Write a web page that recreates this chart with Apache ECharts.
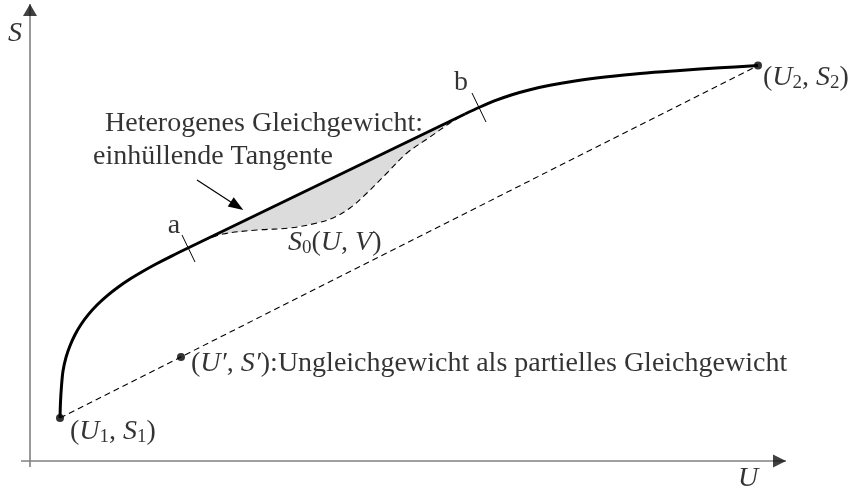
<!DOCTYPE html>
<html>
<head>
<meta charset="utf-8">
<script src="https://cdn.jsdelivr.net/npm/echarts@6/dist/echarts.min.js"></script>
<style>
  html, body { margin: 0; padding: 0; background: #ffffff; }
  #chart { width: 855px; height: 493px; }
</style>
</head>
<body>
<div id="chart"></div>
<script>
// Axis extents in diagram units (U to the right, S upwards)
const uAxis = [-9, 756];
const sAxis = [-6, 457];

// Equilibrium entropy S(U): concave branch below a, envelope tangent a-b, branch above b
const lowerBranch = [[30, 43], [30.5, 59], [31.5, 75], [33, 90], [36, 103.7], [40, 115.3], [45, 126.3],
  [51, 136.5], [58.5, 146.6], [67, 156], [77, 165.2], [88, 173.8], [100, 182], [113, 189.8],
  [127, 197.5], [142, 205.2], [158, 213]];
const tangent = [[158, 213], [435, 347]];
const upperBranch = [[435, 347], [450, 354], [465, 360.3], [482, 366.3], [500, 371.3], [520, 375.7],
  [545, 380], [575, 383.9], [610, 387.6], [650, 390.6], [690, 393.2], [728, 395.5]];

// Homogeneous entropy S0(U,V), leaving and rejoining the tangent
const s0Curve = [[173, 220], [193, 227], [227, 231], [260, 233], [287, 238], [303, 243], [320, 253],
  [337, 268], [357, 288], [377, 308], [400, 324], [420, 338], [435, 347]];

// Chord between the two end states and the marked states
const chord = [[30, 43], [728, 395.5]];
const statePoints = [[30, 43], [728, 395.5], [151, 104]];

// Short marks across the curve at a and b, and the pointer onto the tangent
const tickA = [[152, 226], [165, 199]];
const tickB = [[442, 368], [456, 339]];
const pointer = [[167, 281], [207, 255]];

// Text anchors: [u, s, text, anchoring]
const labelTexts = [
  [75, 337, '{r|Heterogenes Gleichgewicht:}', 'left'],
  [63, 304, '{r|einhüllende Tangente}', 'left'],
  [40, 29, '{r|(}{i|U}{s|1}{r|, }{i|S}{s|1}{r|)}', 'left'],
  [733, 383, '{r|(}{i|U}{s|2}{r|, }{i|S}{s|2}{r|)}', 'left'],
  [161, 97, '{r|(}{i|U′}{r|, }{i|S′}{r|):Ungleichgewicht als partielles Gleichgewicht}', 'left'],
  [258, 218, '{i|S}{s|0}{r|(}{i|U}{r|, }{i|V}{r|)}', 'left'],
  [144, 235, '{r|a}', 'center'],
  [431, 378, '{r|b}', 'center'],
  [-15, 427, '{i|S}', 'center'],
  [718, -18, '{i|U}', 'center']
];

const FONT = "'Liberation Serif', 'DejaVu Serif', serif";
const INK = '#000000';
const rich = {
  r: { fontFamily: FONT, fontSize: 28, color: INK, lineHeight: 30, verticalAlign: 'middle' },
  i: { fontFamily: FONT, fontSize: 28, color: INK, fontStyle: 'italic', lineHeight: 30, verticalAlign: 'middle' },
  s: { fontFamily: FONT, fontSize: 19, color: INK, lineHeight: 14, verticalAlign: 'bottom' }
};

function path(name, data, style, extra) {
  return Object.assign({
    name: name, type: 'line', data: data, symbol: 'none', silent: true,
    lineStyle: style, z: 3
  }, extra || {});
}

const chart = echarts.init(document.getElementById('chart'), null, { renderer: 'canvas' });

chart.setOption({
  animation: false,
  backgroundColor: '#ffffff',
  grid: { left: 0, right: 0, top: 0, bottom: 0 },
  xAxis: { type: 'value', min: -30, max: 825, show: false },
  yAxis: { type: 'value', min: -32, max: 461, show: false },
  series: [
    // Shaded gap between tangent and S0 (S0 starts and ends on the tangent)
    {
      name: 'gap', type: 'custom', silent: true, z: 1,
      data: [[0, 0]],
      renderItem: function (params, api) {
        const pts = s0Curve.map(p => api.coord(p));
        return { type: 'polygon', shape: { points: pts }, style: { fill: '#dcdcdc', stroke: null } };
      }
    },
    // Axes
    path('uAxis', [[uAxis[0], 0], [uAxis[1], 0]], { color: '#808080', width: 1.6 }, { z: 2 }),
    path('sAxis', [[0, sAxis[0]], [0, sAxis[1]]], { color: '#808080', width: 1.6 }, { z: 2 }),
    {
      name: 'axisHeads', type: 'scatter', silent: true, z: 4,
      data: [
        { value: [uAxis[1] - 6.5, 0], symbol: 'path://M0,0L13,6.5L0,13Z', symbolSize: [13, 13] },
        { value: [0, sAxis[1] - 6], symbol: 'path://M0,12L7,0L14,12Z', symbolSize: [14, 12] }
      ],
      itemStyle: { color: '#111111' }
    },
    // Curves
    path('chord', chord, { color: INK, width: 1.1, type: [6, 4] }),
    path('s0', s0Curve, { color: INK, width: 1.1, type: [6, 4] }, { smooth: 0.35 }),
    path('lower', lowerBranch, { color: INK, width: 3 }, { smooth: 0.3, z: 5 }),
    path('tangent', tangent, { color: INK, width: 3 }, { z: 5 }),
    path('upper', upperBranch, { color: INK, width: 3 }, { smooth: 0.35, z: 5 }),
    path('tickA', tickA, { color: INK, width: 1 }),
    path('tickB', tickB, { color: INK, width: 1 }),
    // Pointer arrow
    {
      name: 'pointer', type: 'line', data: [], silent: true, z: 5,
      markLine: {
        silent: true, animation: false,
        label: { show: false },
        lineStyle: { color: INK, width: 1.2, type: 'solid' },
        data: [[
          { coord: pointer[0], symbol: 'none' },
          { coord: pointer[1], symbol: 'triangle', symbolSize: [11, 15] }
        ]]
      }
    },
    // State points
    {
      name: 'states', type: 'scatter', silent: true, z: 6,
      data: statePoints, symbol: 'circle', symbolSize: 8,
      itemStyle: { color: INK }
    },
    // Text
    {
      name: 'text', type: 'scatter', silent: true, z: 7, clip: false,
      symbolSize: 0,
      data: labelTexts.map(t => ({
        value: [t[0], t[1]],
        label: {
          show: true,
          formatter: t[2],
          position: t[3] === 'left' ? 'right' : 'inside',
          distance: 0,
          align: t[3],
          verticalAlign: 'middle',
          rich: rich
        }
      }))
    }
  ]
});
</script>
</body>
</html>
